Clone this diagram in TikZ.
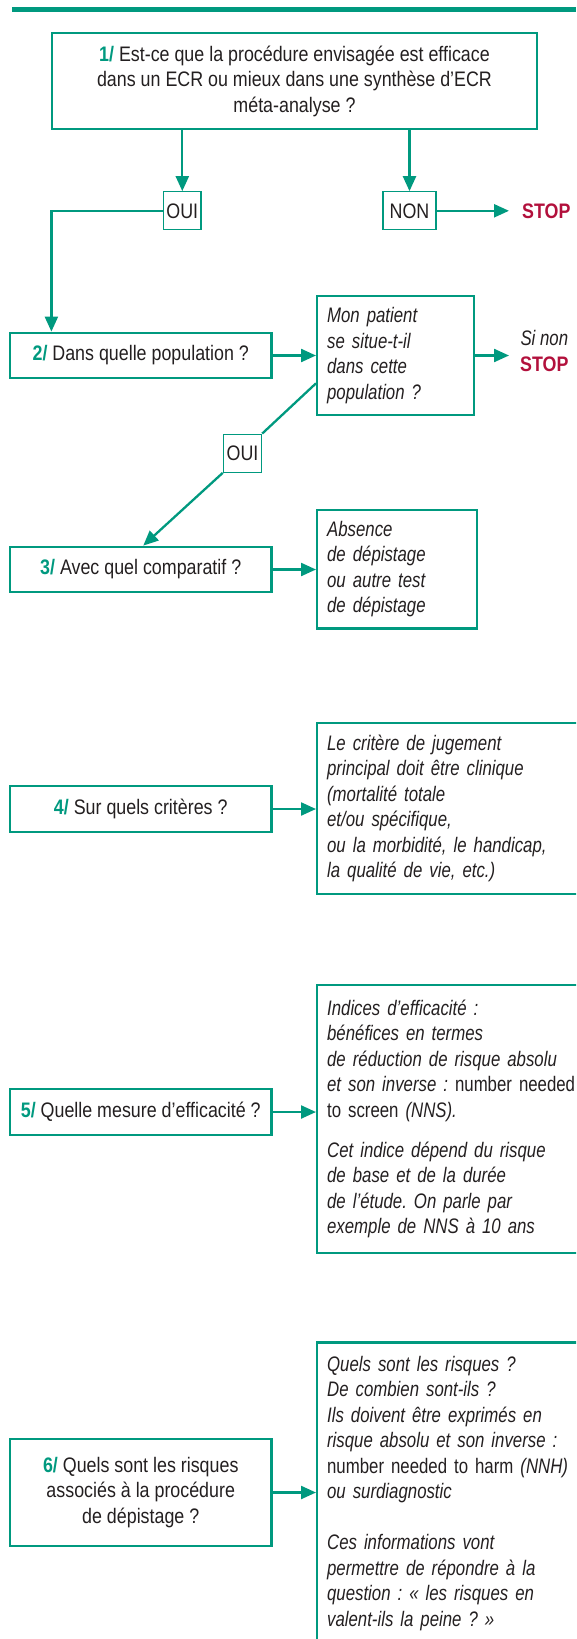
\documentclass[tikz,border=0pt]{standalone}
\usepackage{fontspec}
\setmainfont{Liberation Sans}[UprightFeatures={FakeStretch=0.85}, BoldFeatures={FakeStretch=0.85},
                              ItalicFeatures={FakeStretch=0.80}, BoldItalicFeatures={FakeStretch=0.80}]
\newfontfamily\plainnarrow{Liberation Sans}[FakeStretch=0.80]
\usetikzlibrary{arrows.meta}
\definecolor{jadegreen}{RGB}{0, 153, 127}
\definecolor{raspberry}{RGB}{178, 16, 60}
\definecolor{inkgray}{RGB}{35, 31, 32}
\newcommand{\stepno}[1]{\textbf{\textcolor{jadegreen}{#1}}}
\newcommand{\plainword}[1]{{\upshape\plainnarrow #1}}
\frenchspacing

\begin{document}
\begin{tikzpicture}[x=1pt, y=-1pt,
    every node/.style={font=\fontsize{21}{25.5}\selectfont, text=inkgray},
    qbox/.style={draw=jadegreen, line width=2.3pt, inner sep=0pt, align=center,
                 minimum width=261.5pt, minimum height=45.5pt},
    abox/.style={draw=jadegreen, line width=2.3pt, inner xsep=10pt, inner ysep=0pt,
                 align=left, anchor=west, font=\fontsize{21}{25.5}\selectfont\itshape},
    tagbox/.style={draw=jadegreen, line width=1.3pt, inner sep=0pt, minimum height=38pt},
    stopmark/.style={text=raspberry, font=\fontsize{21}{25.5}\selectfont\bfseries, inner sep=0pt},
    link/.style={jadegreen, line width=2.3pt},
    arr/.style={link, -{Triangle[length=15pt, width=13pt]}}]
            \useasboundingbox (0, 0) rectangle (576, 1639);
            \clip             (0, 0) rectangle (576, 1639);
            % Header rule
            \draw[jadegreen, line width=5pt] (12, 9.2) -- (576, 9.2);
            % Question 1 and its two answers
            \node[qbox, minimum width=485pt, minimum height=96pt] (q1) at (294.5, 81.3)
                 {\stepno{1/} Est-ce que la procédure envisagée est efficace\\dans un ECR ou mieux dans une synthèse d’ECR\\méta-analyse ?};
            \node[tagbox, minimum width=37.5pt] (oui1)  at (182.3, 210.8) {OUI};
            \node[tagbox, minimum width=53pt]   (non)   at (409.5, 210.8) {NON};
            \node[stopmark, anchor=west]        (stop1) at (522.0, 210.8) {STOP};
            \coordinate (k1) at (51.4, 210.8);
            \draw[arr]                   (q1.south -| oui1.north) -- (oui1.north);
            \draw[arr]                   (q1.south -| non.north)  -- (non.north);
            \draw[arr, shorten >=13pt]   (non.east) -- (stop1.west);
            % Question 2
            \node[qbox] (q2) at (140.75, 355.5) {\stepno{2/} Dans quelle population ?};
            \node[abox, minimum width=157pt, minimum height=119pt, text width=137pt] (pat) at (316, 355.5)
                 {Mon patient\\se situe-t-il\\dans cette\\population ?};
            \node[align=center, anchor=west, inner sep=0pt] (sinon) at (520, 351)
                 {\textit{Si non}\\\textcolor{raspberry}{\textbf{STOP}}};
            \node[tagbox, minimum width=38.2pt] (oui2) at (242.5, 453.2) {OUI};
            \coordinate (k2) at (316, 383.3);
            \draw[arr]                   (oui1.west) -- (k1) -- (k1 |- q2.north);
            \draw[arr]                   (q2.east) -- (q2.east -| pat.west);
            \draw[arr, shorten >=11pt]   (pat.east) -- (pat.east -| sinon.west);
            \draw[link]                  (k2) -- (oui2.north east);
            % Question 3
            \node[qbox] (q3) at (140.75, 569.5) {\stepno{3/} Avec quel comparatif ?};
            \node[abox, minimum width=160pt, minimum height=118.3pt, text width=140pt] (abs) at (316, 569.2)
                 {Absence\\de dépistage\\ou autre test\\de dépistage};
            \draw[arr]                   (oui2.south west) -- ([xshift=2.5pt]q3.north);
            \draw[arr]                   (q3.east) -- (q3.east -| abs.west);
            % Question 4
            \node[qbox] (q4) at (140.75, 809) {\stepno{4/} Sur quels critères ?};
            \node[abox, minimum width=295pt, minimum height=171.6pt, text width=275pt] (crit) at (316, 808.5)
                 {Le critère de jugement\\principal doit être clinique\\(mortalité totale\\et/ou spécifique,\\ou la morbidité, le handicap,\\la qualité de vie, etc.)};
            \draw[arr]                   (q4.east) -- (q4.east -| crit.west);
            % Question 5
            \node[qbox] (q5) at (140.75, 1112) {\stepno{5/} Quelle mesure d’efficacité ?};
            \node[abox, minimum width=295pt, minimum height=267.7pt, text width=275pt] (ind) at (316, 1118.9)
                 {Indices d’efficacité :\\bénéfices en termes\\de réduction de risque absolu\\et son inverse : \plainword{number needed}\\\plainword{to screen} (NNS).\\[14.5pt]Cet indice dépend du risque\\de base et de la durée\\de l’étude. On parle par\\exemple de NNS à 10 ans};
            \draw[arr]                   (q5.east) -- (q5.east -| ind.west);
            % Question 6
            \node[qbox, minimum height=106.4pt] (q6) at (140.75, 1492.5)
                 {\stepno{6/} Quels sont les risques\\associés à la procédure\\de dépistage ?};
            \node[abox, minimum width=295pt, minimum height=301.7pt, text width=275pt] (risk) at (316, 1493.2)
                 {Quels sont les risques ?\\De combien sont-ils ?\\Ils doivent être exprimés en\\risque absolu et son inverse :\\\plainword{number needed to harm} (NNH)\\ou surdiagnostic\\[25.5pt]Ces informations vont\\permettre de répondre à la\\question : « les risques en\\valent-ils la peine ? »};
            \draw[arr]                   (q6.east) -- (q6.east -| risk.west);
\end{tikzpicture}
\end{document}
